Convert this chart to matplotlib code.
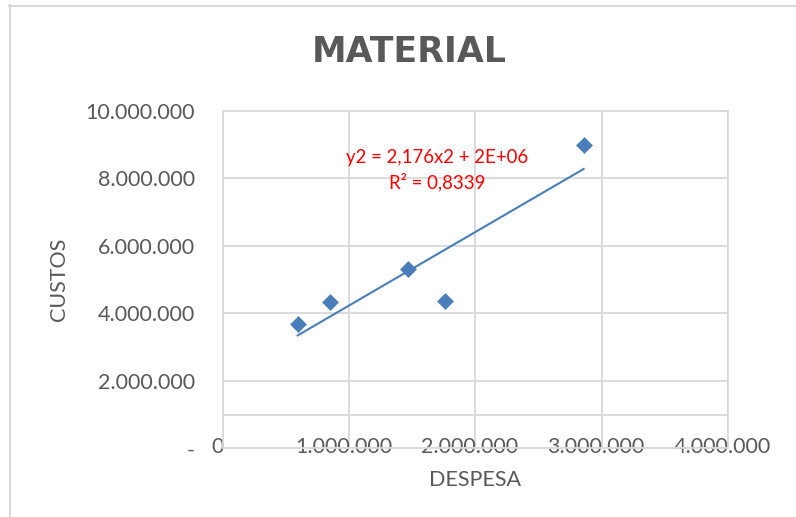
import numpy as np
import matplotlib
matplotlib.use("Agg")
from matplotlib import pyplot as plt
from matplotlib.lines import Line2D
from matplotlib.transforms import ScaledTranslation

plt.rcParams["font.family"] = ["Lato", "DejaVu Sans"]

# despesa x custos (material)
despesa = [590000, 846000, 1467000, 1756000, 2858000]
custos = [3676000, 4330000, 5307000, 4376000, 8983000]

# linear trend as reported by the spreadsheet
trend_slope = 2.176
trend_r2 = 0.8339
trend_text = "y2 = 2,176x2 + 2E+06"
r2_text = "R² = 0,8339"

x_ticks = [0, 1000000, 2000000, 3000000, 4000000]
x_labels = ["0", "1.000.000", "2.000.000", "3.000.000", "4.000.000"]
y_ticks = [0, 1000000, 2000000, 4000000, 6000000, 8000000, 10000000]
y_labels = ["-", "", "2.000.000", "4.000.000", "6.000.000", "8.000.000", "10.000.000"]

blue = "#4A7EBB"
grey_text = "#595959"
grid_col = "#D9D9D9"

fig = plt.figure(figsize=(7.96, 5.17), dpi=100)
ax = fig.add_axes([0.2805, 0.1329, 0.6337, 0.6524])

ax.scatter(despesa, custos, marker="D", s=8.6 ** 2, color=blue, zorder=3, linewidths=0)

xs = np.array([min(despesa), max(despesa)])
intercept = np.mean(custos) - trend_slope * np.mean(despesa)
ax.plot(xs, trend_slope * xs + intercept, color=blue, lw=1.5, zorder=2)

ax.set_xlim(0, 4000000)
ax.set_ylim(0, 10000000)
ax.set_xticks(x_ticks)
ax.set_xticklabels(x_labels)
ax.set_yticks(y_ticks)
ax.set_yticklabels(y_labels)
ax.grid(True, color=grid_col, lw=1.3)
ax.set_axisbelow(True)
for s in ax.spines.values():
    s.set_color(grid_col)
    s.set_linewidth(1.3)

ax.tick_params(axis="both", length=0, labelsize=15.5, labelcolor=grey_text)
ax.tick_params(axis="y", pad=20.5)
ax.tick_params(axis="x", pad=0)
for lab in ax.get_xticklabels():
    lab.set_verticalalignment("center")
    lab.set_transform(lab.get_transform() + ScaledTranslation(-5.5 / 100, 1 / 100, fig.dpi_scale_trans))

ax.set_xlabel("DESPESA", fontsize=15.5, color=grey_text, labelpad=9)
ax.set_ylabel("CUSTOS", fontsize=15.5, color=grey_text, labelpad=12)

fig.text(409 / 796, 1 - 52.5 / 517, "MATERIAL", fontsize=25, fontweight="bold",
         color=grey_text, ha="center", va="center", family=["DejaVu Sans"])

fig.text(437 / 796, 1 - 157 / 517, trend_text, fontsize=13.4, color="#FF0000",
         ha="center", va="center")
fig.text(437 / 796, 1 - 182.5 / 517, r2_text, fontsize=13.4, color="#FF0000",
         ha="center", va="center")

# chart area frame
fig.add_artist(Line2D([9.5 / 796, 9.5 / 796], [1 - 5 / 517, 0], color=grid_col, lw=1.5))
fig.add_artist(Line2D([9 / 796, 1], [1 - 5.5 / 517, 1 - 5.5 / 517], color=grid_col, lw=1.5))

fig.savefig("out.png", dpi=100)
